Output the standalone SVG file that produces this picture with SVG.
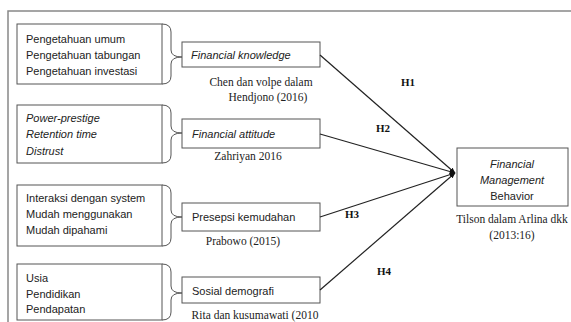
<svg xmlns="http://www.w3.org/2000/svg" width="571" height="322" viewBox="0 0 571 322">
<defs>
<style>
.box{fill:#fff;stroke:#555;stroke-width:1}
.brace{fill:none;stroke:#555;stroke-width:1}
.frame{fill:none;stroke:#888;stroke-width:1.5}
.s{font-family:"Liberation Sans",Arial,sans-serif;font-size:11px;fill:#222}
.i{font-style:italic}
.c{font-family:"Liberation Serif","Times New Roman",serif;font-size:11.5px;fill:#222;text-anchor:middle}
.h{font-family:"Liberation Serif","Times New Roman",serif;font-size:11px;font-weight:bold;fill:#111;text-anchor:middle}
.conn{stroke:#222;stroke-width:1.2;fill:none}
</style>
<marker id="ah" viewBox="0 0 10 10" refX="9" refY="5" markerWidth="6" markerHeight="6" orient="auto" markerUnits="userSpaceOnUse">
<path d="M0,1 L10,5 L0,9 z" fill="#111"/>
</marker>
</defs>
<rect width="571" height="322" fill="#fff"/>
<path class="frame" d="M8,322 V11 H571"/>

<g id="ind1">
<rect class="box" x="17" y="24" width="145" height="60"/>
<path class="brace" d="M162,24 Q171,24 171,32 V50 Q171,57 182,57 Q171,57 171,64 V76 Q171,84 162,84"/>
<text class="s" x="26" y="43">Pengetahuan umum</text>
<text class="s" x="26" y="59">Pengetahuan tabungan</text>
<text class="s" x="26" y="75">Pengetahuan investasi</text>
</g>
<g id="fk">
<rect class="box" x="182" y="42" width="138" height="25"/>
<text class="s i" x="191" y="59">Financial knowledge</text>
<text class="c" x="261" y="86">Chen dan volpe dalam</text>
<text class="c" x="268" y="101">Hendjono (2016)</text>
</g>

<g id="ind2">
<rect class="box" x="17" y="105" width="145" height="58"/>
<path class="brace" d="M162,105 Q171,105 171,113 V126 Q171,133 182,133 Q171,133 171,140 V155 Q171,163 162,163"/>
<text class="s i" x="26" y="122">Power-prestige</text>
<text class="s i" x="26" y="138">Retention time</text>
<text class="s i" x="26" y="155">Distrust</text>
</g>
<g id="fa">
<rect class="box" x="182" y="119" width="138" height="29"/>
<text class="s i" x="192" y="138">Financial attitude</text>
<text class="c" x="248" y="160">Zahriyan 2016</text>
</g>

<g id="ind3">
<rect class="box" x="17" y="185" width="145" height="61"/>
<path class="brace" d="M162,185 Q171,185 171,193 V210 Q171,217 182,217 Q171,217 171,224 V238 Q171,246 162,246"/>
<text class="s" x="26" y="202">Interaksi dengan system</text>
<text class="s" x="26" y="218">Mudah menggunakan</text>
<text class="s" x="26" y="234">Mudah dipahami</text>
</g>
<g id="pk">
<rect class="box" x="182" y="203" width="138" height="28"/>
<text class="s" x="192" y="221">Presepsi kemudahan</text>
<text class="c" x="243" y="245">Prabowo (2015)</text>
</g>

<g id="ind4">
<rect class="box" x="17" y="264" width="145" height="56"/>
<path class="brace" d="M162,264 Q171,264 171,272 V286 Q171,293 182,293 Q171,293 171,300 V312 Q171,320 162,320"/>
<text class="s" x="26" y="282">Usia</text>
<text class="s" x="26" y="298">Pendidikan</text>
<text class="s" x="26" y="313">Pendapatan</text>
</g>
<g id="sd">
<rect class="box" x="182" y="277" width="138" height="26"/>
<text class="s" x="192" y="295">Sosial demografi</text>
<text class="c" x="255" y="319">Rita dan kusumawati (2010</text>
</g>

<g id="fmb">
<rect class="box" x="457" y="148" width="111" height="58"/>
<text class="s i" x="512" y="168" text-anchor="middle">Financial</text>
<text class="s i" x="512" y="184" text-anchor="middle">Management</text>
<text class="s" x="512" y="200" text-anchor="middle">Behavior</text>
<text class="c" x="512" y="223">Tilson dalam Arlina dkk</text>
<text class="c" x="512" y="239">(2013:16)</text>
</g>

<g id="connectors">
<line class="conn" x1="320" y1="55" x2="455" y2="173" marker-end="url(#ah)"/>
<line class="conn" x1="320" y1="134" x2="455" y2="173" marker-end="url(#ah)"/>
<line class="conn" x1="320" y1="217" x2="455" y2="173" marker-end="url(#ah)"/>
<line class="conn" x1="320" y1="290" x2="455" y2="173" marker-end="url(#ah)"/>
<text class="h" x="408" y="86">H1</text>
<text class="h" x="383" y="132">H2</text>
<text class="h" x="352" y="218">H3</text>
<text class="h" x="384" y="275">H4</text>
</g>
</svg>
